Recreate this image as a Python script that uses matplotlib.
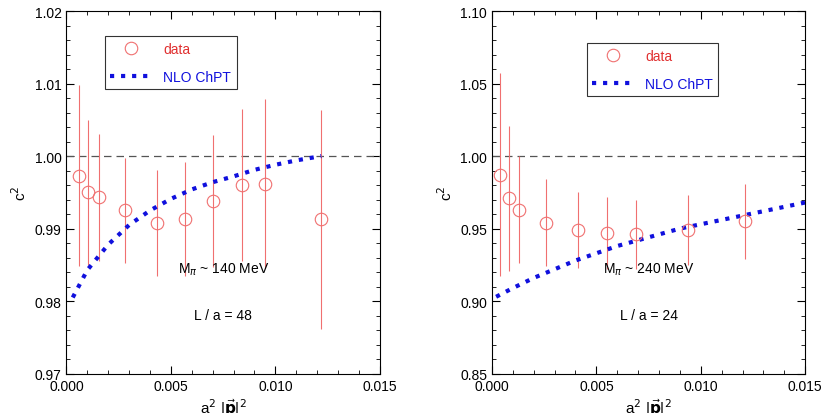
import numpy as np
import matplotlib.pyplot as plt
from matplotlib.ticker import MultipleLocator
from matplotlib.lines import Line2D

plt.rcParams['font.family'] = ['Liberation Sans', 'DejaVu Sans']
plt.rcParams['mathtext.fontset'] = 'dejavusans'

# left panel (L/a = 48)
x48 = [0.0006, 0.00103, 0.00158, 0.0028, 0.00433, 0.00567, 0.0070, 0.0084, 0.0095, 0.0122]
y48 = [0.9973, 0.9950, 0.9943, 0.9925, 0.9908, 0.9913, 0.9938, 0.9960, 0.9962, 0.9913]
e48 = [0.0125, 0.0100, 0.0087, 0.0073, 0.0073, 0.0079, 0.0091, 0.0105, 0.0117, 0.0151]
nx48 = [0.0003, 0.001, 0.002, 0.003, 0.004, 0.005, 0.006, 0.007, 0.008, 0.009, 0.010, 0.011, 0.0122]
ny48 = [0.9805, 0.9843, 0.9878, 0.9905, 0.9925, 0.9941, 0.9954, 0.9964, 0.9972, 0.9981, 0.9988, 0.9994, 1.0]

# right panel (L/a = 24)
x24 = [0.0004, 0.0008, 0.0013, 0.0026, 0.0041, 0.0055, 0.0069, 0.0094, 0.0121]
y24 = [0.987, 0.971, 0.963, 0.954, 0.949, 0.947, 0.946, 0.949, 0.955]
e24 = [0.070, 0.050, 0.037, 0.030, 0.026, 0.025, 0.024, 0.024, 0.026]
nx24 = [0.0002, 0.001, 0.002, 0.003, 0.004, 0.005, 0.006, 0.007, 0.008, 0.009, 0.010, 0.011, 0.012, 0.013, 0.014, 0.015]
ny24 = [0.903, 0.909, 0.916, 0.922, 0.928, 0.933, 0.938, 0.942, 0.946, 0.950, 0.953, 0.956, 0.959, 0.962, 0.965, 0.968]

fig = plt.figure(figsize=(8.31, 4.14), dpi=100)
ax1 = fig.add_axes([0.080, 0.095, 0.377, 0.876])
ax2 = fig.add_axes([0.592, 0.095, 0.377, 0.876])

red = '#f07070'
blue = '#1010dd'
panels = [
    (ax1, x48, y48, e48, nx48, ny48, (0.97, 1.02), 0.01, 0.002, "140", "48", (0.10, 0.95)),
    (ax2, x24, y24, e24, nx24, ny24, (0.85, 1.10), 0.05, 0.01, "240", "24", (0.28, 0.93)),
]
for ax, x, y, e, nx, ny, ylim, major, minor, mpi, la, legpos in panels:
    ax.axhline(1.0, color='#555555', ls=(0, (6, 4)), lw=0.9)
    ax.errorbar(x, y, yerr=e, fmt='o', mfc='none', mec=red, ecolor=red,
                ms=9, mew=0.8, elinewidth=0.8, capsize=0)
    ax.plot(nx, ny, ls=':', color=blue, lw=3)
    ax.set_xlim(0, 0.015)
    ax.set_ylim(*ylim)
    ax.xaxis.set_major_locator(MultipleLocator(0.005))
    ax.xaxis.set_minor_locator(MultipleLocator(0.001))
    ax.yaxis.set_major_locator(MultipleLocator(major))
    ax.yaxis.set_minor_locator(MultipleLocator(minor))
    ax.xaxis.set_major_formatter(lambda v, p: f"{v:.3f}")
    ax.yaxis.set_major_formatter(lambda v, p: f"{v:.2f}")
    ax.tick_params(which='both', direction='in', top=True, right=True, labelsize=10)
    ax.tick_params(which='major', length=6)
    ax.tick_params(which='minor', length=3)
    ax.set_ylabel(r"c$^2$", fontsize=11)
    ax.set_xlabel(r"a$^2$ |$\vec{\mathbf{p}}$|$^2$", fontsize=11, labelpad=3)
    handles = [Line2D([], [], ls='none', marker='o', mfc='none', mec=red, ms=9, mew=0.8),
               Line2D([], [], ls=':', color=blue, lw=3)]
    leg = ax.legend(handles, ['data', 'NLO ChPT'], loc='upper left', bbox_to_anchor=legpos,
                    fancybox=False, edgecolor='black', fontsize=10, handlelength=3,
                    labelspacing=1.0)
    leg.get_frame().set_linewidth(0.8)
    for t, c in zip(leg.get_texts(), ['#e03030', blue]):
        t.set_color(c)
    ax.text(0.5, 0.28, rf"M$_\pi$ ~ {mpi} MeV", transform=ax.transAxes, ha='center', fontsize=10)
    ax.text(0.5, 0.15, f"L / a = {la}", transform=ax.transAxes, ha='center', fontsize=10)

fig.savefig("out.png", dpi=100)
